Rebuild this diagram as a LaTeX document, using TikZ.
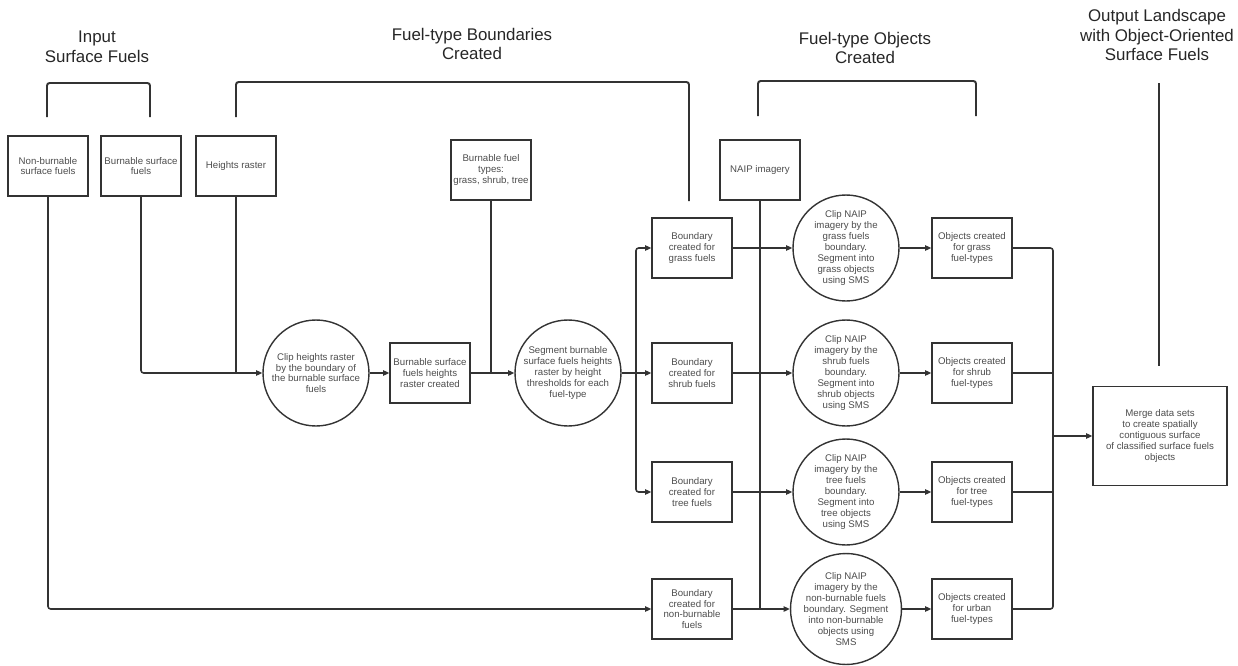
\documentclass[tikz,border=0pt]{standalone}
\usepackage{fontspec}
\setmainfont{Liberation Sans}
\usetikzlibrary{arrows.meta,positioning}

\begin{document}
\begin{tikzpicture}
[
  x=0.02cm, y=-0.02cm,
  every node/.style={font=\fontsize{5.5}{6.2}\selectfont, text=black!70, align=center},
  box/.style={draw=black!80, line width=0.8pt, minimum width=1.6cm, minimum height=1.2cm, inner sep=1pt},
  proc/.style={draw=black!80, circle, line width=0.8pt, minimum size=2.12cm, inner sep=0pt},
  heading/.style={font=\fontsize{9.6}{11.3}\selectfont, text=black!85},
  link/.style={draw=black!80, line width=0.9pt, rounded corners=1.5pt},
  flow/.style={link, -{Triangle[length=3.5pt,width=3pt]}},
  brace/.style={draw=black!80, line width=1.1pt, rounded corners=1.5pt}
]
  \useasboundingbox (0,0) rectangle (1238,666);

  \node[heading] (tinput) at (97,47) {Input\\Surface Fuels};
  \node[heading] (tbound) at (472,44) {Fuel-type Boundaries\\Created};
  \node[heading] (tobj) at (865,48) {Fuel-type Objects\\Created};
  \node[heading] (tout) at (1157,35) {Output Landscape\\with Object-Oriented\\Surface Fuels};

  \draw[brace] (47,117) |- (150,83) -- (150,117);
  \draw[brace] (236,117) |- (689,82) -- (689,201);
  \draw[brace] (758,116) |- (976,81) -- (976,116);
  \draw[brace] (1159,83) -- (1159,366);

  \node[box] (nbsf) at (48,166) {Non-burnable\\surface fuels};
  \node[box] (bsf) at (141,166) {Burnable surface\\fuels};
  \node[box] (hr) at (236,166) {Heights raster};
  \node[box] (bft) at (491,170) {Burnable fuel\\types:\\grass, shrub, tree};
  \node[box] (naip) at (760,170) {NAIP imagery};

  \node[proc] (clip) at (316,373) {Clip heights raster\\by the boundary of\\the burnable surface\\fuels};
  \node[box] (bshr) at (430,373) {Burnable surface\\fuels heights\\raster created};
  \node[proc] (seg) at (568,373) {Segment burnable\\surface fuels heights\\raster by height\\thresholds for each\\fuel-type};

  \node[box] (bgrass) at (692,248) {Boundary\\created for\\grass fuels};
  \node[box] (bshrub) at (692,373) {Boundary\\created for\\shrub fuels};
  \node[box] (btree) at (692,492) {Boundary\\created for\\tree fuels};
  \node[box] (bnon) at (692,609) {Boundary\\created for\\non-burnable\\fuels};

  \node[proc] (cgrass) at (846,248) {Clip NAIP\\imagery by the\\grass fuels\\boundary.\\Segment into\\grass objects\\using SMS};
  \node[proc] (cshrub) at (846,373) {Clip NAIP\\imagery by the\\shrub fuels\\boundary.\\Segment into\\shrub objects\\using SMS};
  \node[proc] (ctree) at (846,492) {Clip NAIP\\imagery by the\\tree fuels\\boundary.\\Segment into\\tree objects\\using SMS};
  \node[proc] (cnon) at (846,609) {Clip NAIP\\imagery by the\\non-burnable fuels\\boundary. Segment\\into non-burnable\\objects using\\SMS};

  \node[box] (ograss) at (972,248) {Objects created\\for grass\\fuel-types};
  \node[box] (oshrub) at (972,373) {Objects created\\for shrub\\fuel-types};
  \node[box] (otree) at (972,492) {Objects created\\for tree\\fuel-types};
  \node[box] (ourban) at (972,609) {Objects created\\for urban\\fuel-types};

  \node[box, minimum width=2.68cm, minimum height=1.98cm] (merge) at (1160,436) {Merge data sets\\to create spatially\\contiguous surface\\of classified surface fuels\\objects};

  \coordinate (fork) at (636,373);
  \coordinate (join) at (1053,436);

  \draw[flow] (nbsf.south) |- (bnon.west);
  \draw[flow] (bsf.south) |- (clip.west);
  \draw[link] (hr.south) -- (hr.south |- clip.west);
  \draw[flow] (clip) -- (bshr);
  \draw[flow] (bshr) -- (seg);
  \draw[link] (bft.south) -- (bft.south |- seg.west);

  \draw[flow] (seg) -- (bshrub);
  \draw[flow] (fork) |- (bgrass.west);
  \draw[flow] (fork) |- (btree.west);

  \draw[link] (naip.south) -- (naip.south |- cnon.west);
  \draw[flow] (bgrass) -- (cgrass);
  \draw[flow] (bshrub) -- (cshrub);
  \draw[flow] (btree) -- (ctree);
  \draw[flow] (bnon) -- (cnon);

  \draw[flow] (cgrass) -- (ograss);
  \draw[flow] (cshrub) -- (oshrub);
  \draw[flow] (ctree) -- (otree);
  \draw[flow] (cnon) -- (ourban);

  \draw[link] (ograss.east) -| (ourban.east -| join) -- (ourban.east);
  \draw[link] (oshrub.east) -- (oshrub.east -| join);
  \draw[link] (otree.east) -- (otree.east -| join);
  \draw[flow] (join) -- (merge.west);
\end{tikzpicture}
\end{document}
